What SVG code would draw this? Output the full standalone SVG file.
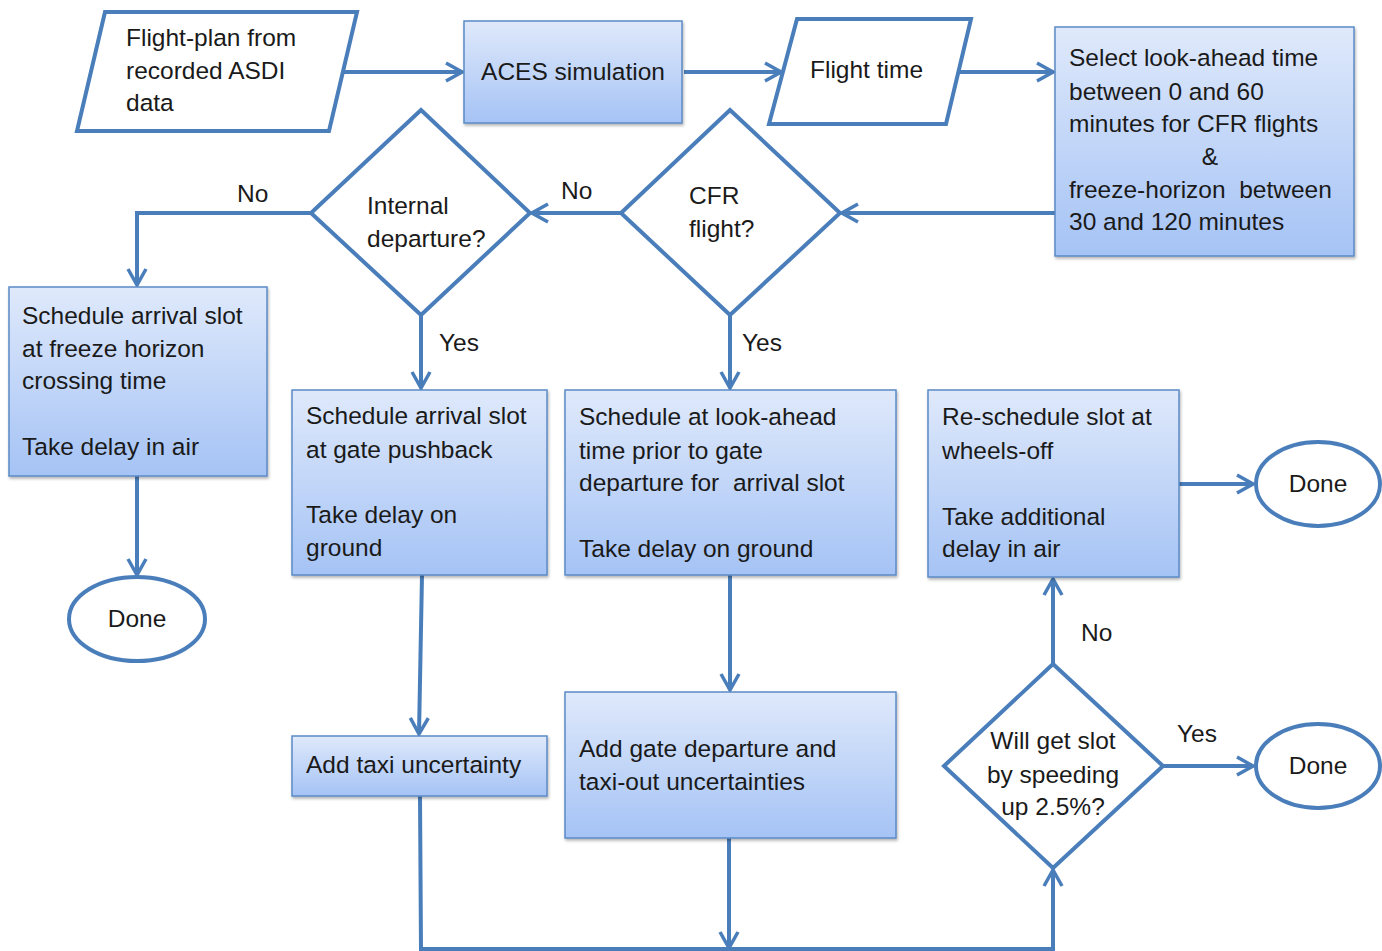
<svg xmlns="http://www.w3.org/2000/svg" width="1382" height="951" viewBox="0 0 1382 951">
<defs>
<linearGradient id="bg" x1="0" y1="0" x2="0" y2="1">
<stop offset="0" stop-color="#dfe9fb"/>
<stop offset="1" stop-color="#a5c3f5"/>
</linearGradient>
<filter id="sh" x="-5%" y="-5%" width="110%" height="115%">
<feDropShadow dx="1" dy="2" stdDeviation="1.5" flood-color="#000" flood-opacity="0.3"/>
</filter>
<marker id="ah" viewBox="0 0 22 22" refX="20" refY="11" markerWidth="22" markerHeight="22" markerUnits="userSpaceOnUse" orient="auto">
<path d="M4,2 L20,11 L4,20" fill="none" stroke="#4a7ebb" stroke-width="3.5"/>
</marker>
</defs>
<style>
text{font-family:"Liberation Sans",Arial,sans-serif;font-size:24.5px;fill:#1a1a1a;white-space:pre}
.box{fill:url(#bg);stroke:#5b8ac6;stroke-width:1.5;filter:url(#sh)}
.sh{fill:#fff;stroke:#4a7ebb;stroke-width:4}
.c{fill:none;stroke:#4a7ebb;stroke-width:4}
.a{marker-end:url(#ah)}
.m{text-anchor:middle}
</style>
<rect width="1382" height="951" fill="#fff"/>
<g id="connectors">
<path class="c a" d="M343,72 H462"/>
<path class="c a" d="M684,72 H781"/>
<path class="c a" d="M958,72 H1053"/>
<path class="c a" d="M1055,213 H842"/>
<path class="c a" d="M621,213 H532"/>
<path class="c a" d="M311,213 H137 V285"/>
<path class="c a" d="M137,476 V575"/>
<path class="c a" d="M421,315 V388"/>
<path class="c a" d="M730,315 V388"/>
<path class="c a" d="M1179,484 H1253"/>
<path class="c a" d="M422,575 L419,734"/>
<path class="c a" d="M730,575 V690"/>
<path class="c a" d="M420,796 L421,949 H1053 V870"/>
<path class="c a" d="M729,838 V948"/>
<path class="c a" d="M1053,664 V579"/>
<path class="c a" d="M1163,766 H1253"/>
<text x="237" y="202">No</text>
<text x="561" y="199">No</text>
<text x="439" y="351">Yes</text>
<text x="742" y="351">Yes</text>
<text x="1081" y="641">No</text>
<text x="1177" y="742">Yes</text>
</g>
<g id="flightplan">
<polygon class="sh" points="105,12 357,12 329,131 77,131"/>
<text x="126" y="46">Flight-plan from</text>
<text x="126" y="79">recorded ASDI</text>
<text x="126" y="111">data</text>
</g>
<g id="aces">
<rect class="box" x="464" y="21" width="218" height="102"/>
<text x="573" y="80" class="m">ACES simulation</text>
</g>
<g id="flighttime">
<polygon class="sh" points="797,19 971,19 946,124 769,124"/>
<text x="810" y="78">Flight time</text>
</g>
<g id="select">
<rect class="box" x="1055" y="27" width="299" height="229"/>
<text x="1069" y="66">Select look-ahead time</text>
<text x="1069" y="100">between 0 and 60</text>
<text x="1069" y="132">minutes for CFR flights</text>
<text x="1210" y="165" class="m">&amp;</text>
<text x="1069" y="198">freeze-horizon  between</text>
<text x="1069" y="230">30 and 120 minutes</text>
</g>
<g id="cfr">
<polygon class="sh" points="730,110 840,213 730,315 621,213"/>
<text x="689" y="204">CFR</text>
<text x="689" y="237">flight?</text>
</g>
<g id="internal">
<polygon class="sh" points="421,110 530,213 421,315 311,213"/>
<text x="367" y="214">Internal</text>
<text x="367" y="247">departure?</text>
</g>
<g id="freeze">
<rect class="box" x="9" y="287" width="258" height="189"/>
<text x="22" y="324">Schedule arrival slot</text>
<text x="22" y="357">at freeze horizon</text>
<text x="22" y="389">crossing time</text>
<text x="22" y="455">Take delay in air</text>
</g>
<g id="done1">
<ellipse class="sh" cx="137" cy="619" rx="68" ry="42"/>
<text x="137" y="627" class="m">Done</text>
</g>
<g id="pushback">
<rect class="box" x="292" y="390" width="255" height="185"/>
<text x="306" y="424">Schedule arrival slot</text>
<text x="306" y="458">at gate pushback</text>
<text x="306" y="523">Take delay on</text>
<text x="306" y="556">ground</text>
</g>
<g id="lookahead">
<rect class="box" x="565" y="390" width="331" height="185"/>
<text x="579" y="425">Schedule at look-ahead</text>
<text x="579" y="459">time prior to gate</text>
<text x="579" y="491">departure for  arrival slot</text>
<text x="579" y="557">Take delay on ground</text>
</g>
<g id="reschedule">
<rect class="box" x="928" y="390" width="251" height="187"/>
<text x="942" y="425">Re-schedule slot at</text>
<text x="942" y="459">wheels-off</text>
<text x="942" y="525">Take additional</text>
<text x="942" y="557">delay in air</text>
</g>
<g id="done2">
<ellipse class="sh" cx="1318" cy="484" rx="62" ry="42"/>
<text x="1318" y="492" class="m">Done</text>
</g>
<g id="taxi">
<rect class="box" x="292" y="736" width="255" height="60"/>
<text x="306" y="773">Add taxi uncertainty</text>
</g>
<g id="gatedep">
<rect class="box" x="565" y="692" width="331" height="146"/>
<text x="579" y="757">Add gate departure and</text>
<text x="579" y="790">taxi-out uncertainties</text>
</g>
<g id="speedup">
<polygon class="sh" points="1053,664 1163,766 1053,868 944,766"/>
<text x="1053" y="749" class="m">Will get slot</text>
<text x="1053" y="783" class="m">by speeding</text>
<text x="1053" y="815" class="m">up 2.5%?</text>
</g>
<g id="done3">
<ellipse class="sh" cx="1318" cy="766" rx="62" ry="42"/>
<text x="1318" y="774" class="m">Done</text>
</g>
</svg>
